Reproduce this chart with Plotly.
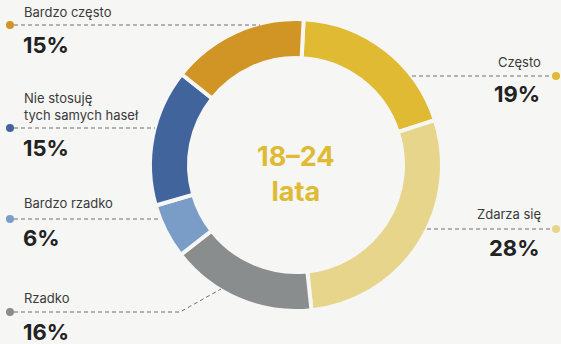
import plotly.graph_objects as go

# Password reuse frequency, age group 18–24
categories = ["Często", "Zdarza się", "Rzadko", "Bardzo rzadko",
              "Nie stosuję<br>tych samych haseł", "Bardzo często"]
values = [19, 28, 16, 6, 15, 15]
colors = ["#E0BA33", "#E6D58A", "#8A8D8D", "#7A9DC7", "#41649C", "#D09524"]
center_title = "18–24<br>lata"

W, H = 561, 344
BG = "#F6F6F4"
FONT = "Inter, Lato, sans-serif"
TEXT_DARK = "#222222"
TEXT_LABEL = "#3A3A3A"


def px(x):
    return x / W


def py(y):
    return 1 - y / H


# donut geometry (pixels)
cx, cy, R = 296, 165, 146

fig = go.Figure(go.Pie(
    labels=categories,
    values=values,
    marker=dict(colors=colors, line=dict(color=BG, width=4)),
    hole=107 / 146,
    sort=False,
    direction="clockwise",
    rotation=3,
    textinfo="none",
    hoverinfo="label+value",
    domain=dict(x=[px(cx - R), px(cx + R)], y=[py(cy + R), py(cy - R)]),
    showlegend=False,
))

# label layout: (side, dot y, leader polyline, name y, percent y)
layout_spec = [
    ("right", 76, [(412, 76), (556, 76)], 62, 94),
    ("right", 229, [(427, 229), (556, 229)], 214, 248),
    ("left", 312, [(14, 312), (180, 312), (221, 289)], 298, 332),
    ("left", 219, [(14, 219), (160, 219)], 203, 238),
    ("left", 128, [(14, 128), (155, 128)], 106, 148),
    ("left", 25, [(14, 25), (260, 25)], 12, 45),
]

shapes = []
annotations = []
for name, val, col, (side, dy, pts, ny, vy) in zip(categories, values, colors, layout_spec):
    path = "M " + " L ".join(f"{px(x)},{py(y)}" for x, y in pts)
    shapes.append(dict(type="path", path=path, xref="paper", yref="paper",
                       line=dict(color="#6E6E6E", width=1, dash="4px,3px")))
    dx = 10 if side == "left" else 556
    shapes.append(dict(type="circle", xref="paper", yref="paper",
                       x0=px(dx - 4), x1=px(dx + 4), y0=py(dy + 4), y1=py(dy - 4),
                       fillcolor=col, line=dict(width=0)))
    ax = 22 if side == "left" else 543
    anchor = "left" if side == "left" else "right"
    annotations.append(dict(text=name, x=px(ax), y=py(ny), xref="paper", yref="paper",
                            xanchor=anchor, yanchor="middle", showarrow=False,
                            align=anchor,
                            font=dict(family=FONT, size=13, color=TEXT_LABEL)))
    annotations.append(dict(text=f"<b>{val}%</b>", x=px(ax - 1), y=py(vy), xref="paper",
                            yref="paper", xanchor=anchor, yanchor="middle",
                            showarrow=False,
                            font=dict(family=FONT, size=22, color=TEXT_DARK)))

annotations.append(dict(text=f"<b>{center_title}</b>", x=px(cx), y=py(174),
                        xref="paper", yref="paper", xanchor="center", yanchor="middle",
                        showarrow=False,
                        font=dict(family=FONT, size=27, color="#E0BA33")))

fig.update_layout(
    width=W, height=H,
    margin=dict(l=0, r=0, t=0, b=0),
    paper_bgcolor=BG, plot_bgcolor=BG,
    shapes=shapes, annotations=annotations,
)

fig.write_html("out.html")
